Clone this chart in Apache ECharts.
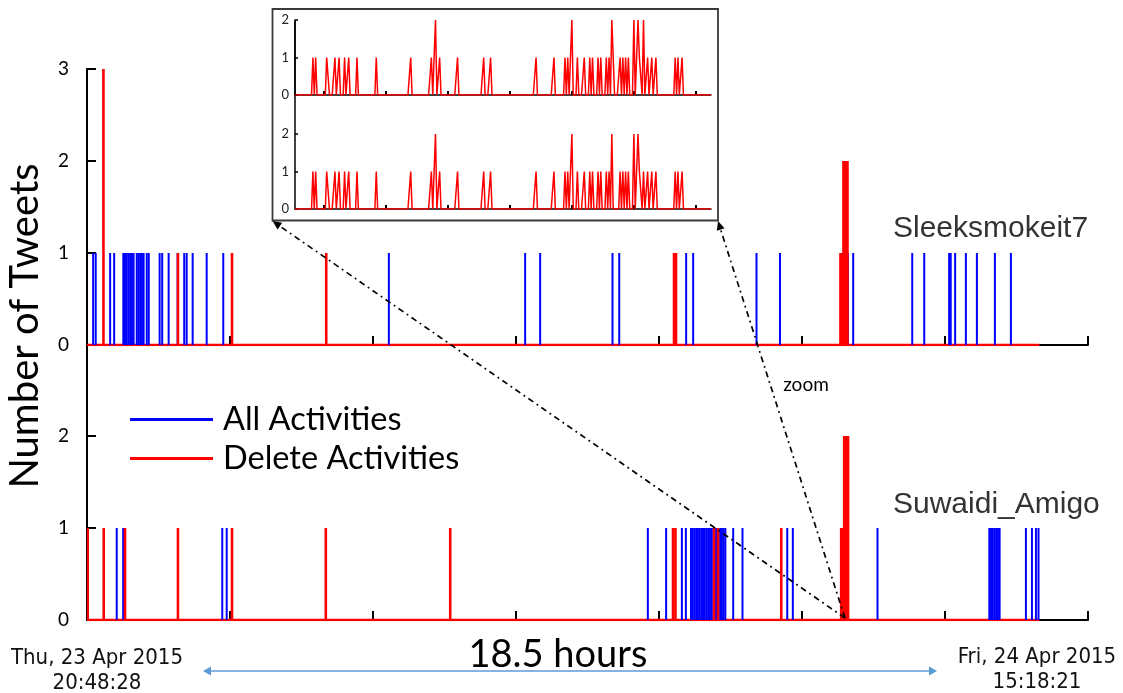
<!DOCTYPE html>
<html><head><meta charset="utf-8">
<script src="https://cdn.jsdelivr.net/npm/echarts@6/dist/echarts.min.js"></script>
<style>html,body{margin:0;padding:0;background:#fff}#c{width:1123px;height:693px}</style>
</head><body><div id="c"></div><script>
// ---------- DATA ----------
// main timeline in time-index units (0..700 across the axis, 100 per tick)
const observationEnd = 666;
const topAllActivities = [[4.5,1],[6.3,1],[16.4,1],[19.2,1],[25.6,1],[26.8,1],[28.0,1],[29.2,1],[30.4,1],[31.6,1],[32.8,1],[35.0,1],[36.2,1],[37.4,1],[38.6,1],[39.8,1],[42.0,1],[43.4,1],[51.0,1],[52.8,1],[57.3,1],[63.6,1],[68.2,1],[69.9,1],[74.1,1],[83.9,1],[95.5,1],[211.3,1],[306.6,1],[317.1,1],[367.7,1],[372.4,1],[419.2,1],[424.1,1],[468.4,1],[484.8,1],[532.3,1],[536.0,1],[577.3,1],[585.7,1],[603.1,1],[604.2,1],[607.3,1],[614.8,1],[622.5,1],[635.1,1],[646.3,1]];
const topDeleteActivities = [[11.5,3],[63.6,1],[101.4,1],[167.3,1],[410.5,1],[411.9,1],[526.9,1],[528.0,1],[529.0,2],[530.1,2],[531.1,2],[531.8,2]];
const bottomAllActivities = [[21.0,1],[25.5,1],[94.8,1],[97.9,1],[392.4,1],[405.2,1],[416.2,1],[419.0,1],[422.6,1],[423.8,1],[425.0,1],[426.2,1],[427.4,1],[428.6,1],[429.8,1],[431.0,1],[432.2,1],[433.4,1],[434.6,1],[435.8,1],[437.0,1],[438.2,1],[439.4,1],[440.6,1],[441.8,1],[443.0,1],[444.2,1],[445.4,1],[446.6,1],[452.1,1],[458.6,1],[489.9,1],[493.8,1],[532.3,1],[553.0,1],[631.2,1],[632.4,1],[633.6,1],[634.8,1],[636.0,1],[637.2,1],[638.4,1],[656.8,1],[661.0,1],[663.8,1],[665.6,1]];
const bottomDeleteActivities = [[0.5,1],[11.7,1],[26.6,1],[63.6,1],[101.4,1],[167.0,1],[254.0,1],[409.8,1],[411.5,1],[438.5,1],[441.3,1],[485.5,1],[527.4,1],[528.5,1],[529.5,2],[530.5,2],[531.5,2],[532.2,2]];
const zoomPointTime = 530;
const yTicksTop = [0,1,2,3];
const yTicksBottom = [0,1,2];
// zoomed inset: delete activities per bin (303 bins)
const insetBinCount = 303;
const insetTopDeletes = [[13,1],[15,1],[23,1],[24,1],[29,1],[32,1],[36,1],[39,1],[45,1],[59,1],[84,1],[99,1],[102,2],[105,1],[118,1],[137,1],[142,1],[175,1],[188,1],[196,1],[198,1],[201,2],[205,1],[210,1],[214,1],[216,1],[220,1],[222,1],[226,1],[228,1],[230,2],[231,2],[236,1],[238,1],[240,1],[242,1],[246,2],[249,2],[250,1],[251,1],[253,2],[256,1],[259,1],[262,1],[276,1],[278,1],[281,1]];
const insetBottomDeletes = [[13,1],[15,1],[23,1],[24,1],[29,1],[32,1],[36,1],[39,1],[45,1],[59,1],[84,1],[99,1],[102,2],[105,1],[118,1],[137,1],[142,1],[175,1],[188,1],[196,1],[198,1],[201,2],[205,1],[210,1],[214,1],[216,1],[220,1],[222,1],[226,1],[228,1],[230,2],[236,1],[238,1],[240,1],[242,1],[246,2],[249,2],[250,1],[251,1],[253,1],[256,1],[259,1],[262,1],[276,1],[278,1],[281,1]];
const insetTickBins = [21,66,111,156,201,246,291];
const userNames = ['Sleeksmokeit7','Suwaidi_Amigo'];
const legendNames = ['All Activities','Delete Activities'];
const startLabel = ['Thu, 23 Apr 2015','20:48:28'];
const endLabel = ['Fri, 24 Apr 2015','15:18:21'];
const spanLabel = '18.5 hours';
const yAxisTitle = 'Number of Tweets';

// ---------- build ----------
function dense(sparse){ const a=[]; for(let i=0;i<insetBinCount;i++) a.push([i,0]); sparse.forEach(([b,v])=>{a[b][1]=v;}); return a; }
const CAL = 'Lato, "Open Sans", sans-serif';
const NARROW = '"Liberation Sans Narrow", "DejaVu Sans Condensed", sans-serif';
const ARIAL = '"Liberation Sans", Arial, sans-serif';
const BLUE = '#0000ff', RED = '#ff0000';
const chart = echarts.init(document.getElementById('c'), null, {renderer:'canvas'});

function mainX(g){ return {gridIndex:g,type:'value',min:0,max:700,interval:100,
  axisLine:{show:true,onZero:false,lineStyle:{color:'#000',width:2}},
  axisTick:{show:true,inside:true,length:9,lineStyle:{color:'#000',width:2}},
  axisLabel:{show:false},splitLine:{show:false}}; }
function mainY(g,labels){ return {gridIndex:g,type:'value',min:0,max:3,interval:1,
  axisLine:{show:true,lineStyle:{color:'#000',width:2}},
  axisTick:{show:true,inside:true,length:9,lineStyle:{color:'#000',width:2},customValues:labels},
  axisLabel:{margin:18,fontSize:19,color:'#000',fontFamily:CAL,customValues:labels},
  splitLine:{show:false}}; }
function insetX(g){ return {gridIndex:g,type:'value',min:0,max:insetBinCount-1,
  axisLine:{show:true,onZero:false,lineStyle:{color:'#000',width:1.5}},
  axisTick:{show:true,inside:true,length:4,lineStyle:{color:'#000',width:2},customValues:insetTickBins},
  axisLabel:{show:false},splitLine:{show:false}}; }
function insetY(g,max){ return {gridIndex:g,type:'value',min:0,max:max,interval:1,
  axisLine:{show:true,lineStyle:{color:'#000',width:1.5}},
  axisTick:{show:true,inside:true,length:3,lineStyle:{color:'#000',width:1.5},customValues:[0,1,2]},
  axisLabel:{margin:6,fontSize:13,color:'#222',fontFamily:CAL,customValues:[0,1,2]},
  splitLine:{show:false}}; }

function bars(name,data,xi,color,w){ return {name,type:'bar',xAxisIndex:xi,yAxisIndex:xi,data,barWidth:w,barGap:'-100%',
  itemStyle:{color},silent:true,animation:false,z:3}; }
function base(name,xi,color,w,z){ return {name,type:'line',xAxisIndex:xi,yAxisIndex:xi,data:[[0,0],[observationEnd,0]],
  symbol:'none',lineStyle:{color,width:w},itemStyle:{color},silent:true,animation:false,z}; }
function insetLine(data,xi){ return {name:legendNames[1],type:'line',xAxisIndex:xi,yAxisIndex:xi,data:dense(data),
  symbol:'none',lineStyle:{color:RED,width:1.5},itemStyle:{color:RED},silent:true,animation:false,z:3}; }

const option = {
  backgroundColor:'#fff',
  animation:false,
  grid:[
    {left:87,top:69,width:1001,height:276},
    {left:87,top:344,width:1001,height:276},
    {left:295,top:20,width:416,height:75},
    {left:295,top:21.5,width:416,height:187.5}
  ],
  xAxis:[mainX(0),mainX(1),insetX(2),insetX(3)],
  yAxis:[mainY(0,yTicksTop),mainY(1,yTicksBottom),insetY(2,2),insetY(3,5)],
  legend:{data:legendNames,orient:'vertical',left:125,top:397,icon:'rect',itemWidth:83,itemHeight:3,itemGap:4,
    selectedMode:false,textStyle:{fontSize:32.5,fontFamily:CAL,color:'#000',lineHeight:35,padding:[0,0,0,5]}},
  series:[
    base(legendNames[0],0,BLUE,2,1), base(legendNames[1],0,RED,2.5,2),
    bars(legendNames[0],topAllActivities,0,BLUE,2), bars(legendNames[1],topDeleteActivities,0,RED,2.6),
    base(legendNames[0],1,BLUE,2,1), base(legendNames[1],1,RED,2.5,2),
    bars(legendNames[0],bottomAllActivities,1,BLUE,2), bars(legendNames[1],bottomDeleteActivities,1,RED,2.6),
    insetLine(insetTopDeletes,2), insetLine(insetBottomDeletes,3)
  ]
};
chart.setOption(option);

// ---------- annotations ----------
const p0 = chart.convertToPixel({xAxisIndex:1,yAxisIndex:1},[zoomPointTime,0]);
const boxL=272.5, boxT=9, boxR=718, boxB=220.5;
function head(tx,ty,fx,fy,len,half){ const dx=tx-fx, dy=ty-fy, L=Math.hypot(dx,dy), ux=dx/L, uy=dy/L;
  const bx=tx-ux*len, by=ty-uy*len; return [[tx,ty],[bx-uy*half,by+ux*half],[bx+uy*half,by-ux*half]]; }
const dashStyle = {stroke:'#000',lineWidth:1.7,lineDash:[6,4,1.8,4]};
function txt(x,y,text,size,family,fill,align,extra){ return Object.assign({type:'text',x,y,z:10,
  style:{text,fontSize:size,fontFamily:family,fill,align:align||'center',verticalAlign:'middle'}},extra||{}); }
const g = [
  {type:'rect',shape:{x:boxL,y:boxT,width:boxR-boxL,height:boxB-boxT},style:{fill:'none',stroke:'#3a3a3a',lineWidth:1.8},z:10},
  {type:'line',shape:{x1:p0[0],y1:p0[1]-2,x2:boxL+5,y2:boxB+4},style:dashStyle,z:10},
  {type:'line',shape:{x1:p0[0],y1:p0[1]-2,x2:boxR+1,y2:boxB+4},style:dashStyle,z:10},
  {type:'polygon',shape:{points:head(boxL,boxB+0.5,p0[0],p0[1],9,4)},style:{fill:'#000'},z:10},
  {type:'polygon',shape:{points:head(boxR,boxB+0.5,p0[0],p0[1],9,4)},style:{fill:'#000'},z:10},
  txt(806,385,'zoom',19,CAL,'#000'),
  txt(25,326,yAxisTitle,40,CAL,'#000','center',{rotation:Math.PI/2}),
  txt(893,229,userNames[0],30,ARIAL,'#333','left'),
  txt(893,505,userNames[1],30,ARIAL,'#333','left'),
  txt(97,658,startLabel[0],22,NARROW,'#111'),
  txt(97,683,startLabel[1],22,NARROW,'#111'),
  txt(1037,657,endLabel[0],22,NARROW,'#111'),
  txt(1037,682,endLabel[1],22,NARROW,'#111'),
  txt(558,655,spanLabel,38,CAL,'#000'),
  {type:'line',shape:{x1:208,y1:671,x2:932,y2:671},style:{stroke:'#5b9bd5',lineWidth:1.5},z:10},
  {type:'polygon',shape:{points:[[203,671],[211,666.5],[211,675.5]]},style:{fill:'#5b9bd5'},z:10},
  {type:'polygon',shape:{points:[[937,671],[929,666.5],[929,675.5]]},style:{fill:'#5b9bd5'},z:10}
];
chart.setOption({graphic:g});
</script></body></html>
